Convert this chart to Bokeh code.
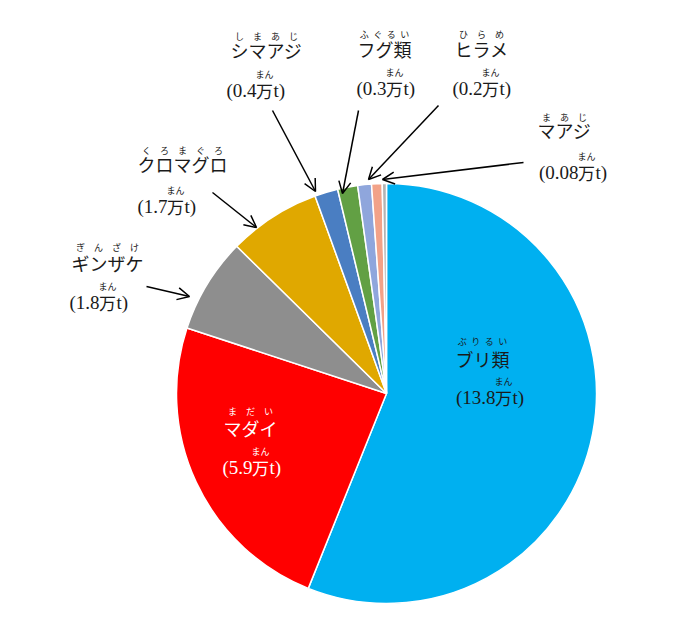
import numpy as np
from bokeh.plotting import figure
from bokeh.models import Range1d, Arrow, OpenHead
from bokeh.core.properties import value
from bokeh.embed import file_html
from bokeh.resources import INLINE

# ---- data ----
categories = ["ブリ類", "マダイ", "ギンザケ", "クロマグロ", "シマアジ", "フグ類", "その他", "ヒラメ", "マアジ"]
furigana = ["ぶりるい", "まだい", "ぎんざけ", "くろまぐろ", "しまあじ", "ふぐるい", "", "ひらめ", "まあじ"]
values = [13.8, 5.9, 1.8, 1.75, 0.44, 0.38, 0.26, 0.2, 0.08]
value_labels = ["13.8", "5.9", "1.8", "1.7", "0.4", "0.3", "", "0.2", "0.08"]
unit_kanji = "万"
unit_ruby = "まん"
unit_tail = "t)"
colors = ["#00B0F0", "#FF0000", "#8E8E8E", "#E0A800", "#4A7EC2",
          "#62A044", "#8FA6DC", "#F2A288", "#B4B4B4"]

# ---- layout ----
W, H = 671, 613
PAGE_H = 629


def Y(py):
    return PAGE_H - py


CX, CY, R = 386, Y(393), 210

# per label: main text left x, main y, ruby y, 万 centre x, number y, text colour
label_layout = {
    0: (455, 358, 341, 503, 397, "#1a1a1a"),
    1: (223, 427, 411, 260, 467, "white"),
    2: (71, 262, 247, 107, 302, "#1a1a1a"),
    3: (137, 163, 150, 175, 206, "#1a1a1a"),
    4: (230, 49, 36, 264, 90, "#1a1a1a"),
    5: (357, 48, 34, 394, 88, "#1a1a1a"),
    7: (454, 48, 34, 490, 88, "#1a1a1a"),
    8: (537, 129, 117, 586, 172, "#1a1a1a"),
}
arrows = {
    2: (146, 286, 189, 296),
    3: (212, 192, 256, 227),
    4: (272, 110, 315, 191),
    5: (358, 110, 342, 193),
    7: (438, 105, 368, 179),
    8: (523, 162, 382, 179),
}

JP = value("Noto Sans CJK JP")
LAT = value("Liberation Serif")
MAIN_PX = 18
RUBY_PX = 9

p = figure(width=W, height=H, output_backend="svg", toolbar_location=None,
           x_range=Range1d(0, W), y_range=Range1d(PAGE_H - H, PAGE_H),
           min_border=0, outline_line_color=None)
p.axis.visible = False
p.grid.visible = False
p.background_fill_color = "white"
p.border_fill_color = "white"

vals = np.array(values, dtype=float)
frac = vals / vals.sum()
cum = np.concatenate([[0.0], np.cumsum(frac)])
start = np.pi / 2 - 2 * np.pi * cum[:-1]
end = np.pi / 2 - 2 * np.pi * cum[1:]
p.wedge(x=CX, y=CY, radius=R, start_angle=start, end_angle=end, direction="clock",
        fill_color=colors, line_color="white", line_width=1.5)

# ---- labels ----
mx, my, mt, mc = [], [], [], []
rx, ry, rt, rc = [], [], [], []
px1, py1, pt1, pc1 = [], [], [], []
kx, ky, kt, kc = [], [], [], []
tx, ty, tt, tc = [], [], [], []
for i, (lx, ly, ruy, xm, ny, col) in label_layout.items():
    name = categories[i]
    mx.append(lx); my.append(Y(ly)); mt.append(name); mc.append(col)
    width = len(name) * MAIN_PX
    kana = furigana[i]
    for j, ch in enumerate(kana):
        rx.append(lx + (j + 0.5) * width / len(kana)); ry.append(Y(ruy)); rt.append(ch); rc.append(col)
    # number: "(0.4" + 万 + "t)"
    px1.append(xm - 8); py1.append(Y(ny)); pt1.append("(" + value_labels[i]); pc1.append(col)
    kx.append(xm); ky.append(Y(ny)); kt.append(unit_kanji); kc.append(col)
    tx.append(xm + 9); ty.append(Y(ny)); tt.append(unit_tail); tc.append(col)
    rx.append(xm); ry.append(Y(ny - 16)); rt.append(unit_ruby); rc.append(col)

p.text(x=mx, y=my, text=mt, text_color=mc, text_font=JP, text_font_size=f"{MAIN_PX}px",
       text_align="left", text_baseline="middle")
p.text(x=rx, y=ry, text=rt, text_color=rc, text_font=JP, text_font_size=f"{RUBY_PX}px",
       text_align="center", text_baseline="middle")
p.text(x=px1, y=py1, text=pt1, text_color=pc1, text_font=LAT, text_font_size="19px",
       text_align="right", text_baseline="middle")
p.text(x=kx, y=ky, text=kt, text_color=kc, text_font=JP, text_font_size="17px",
       text_align="center", text_baseline="middle")
p.text(x=tx, y=ty, text=tt, text_color=tc, text_font=LAT, text_font_size="19px",
       text_align="left", text_baseline="middle")

for i, (x0, y0, x1, y1) in arrows.items():
    p.add_layout(Arrow(end=OpenHead(size=12, line_width=1.5, line_color="black"),
                       x_start=x0, y_start=Y(y0), x_end=x1, y_end=Y(y1),
                       line_width=1.5, line_color="black"))

open("out.html", "w").write(file_html(p, INLINE))
